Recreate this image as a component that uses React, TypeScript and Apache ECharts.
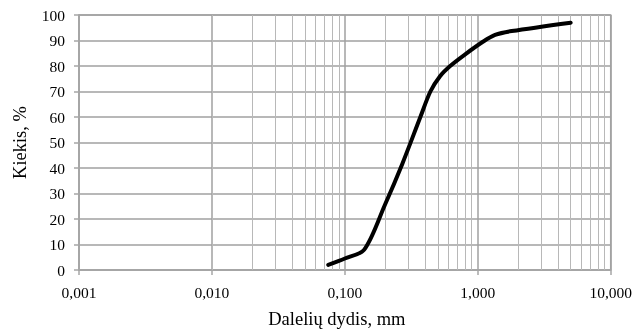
import React, { useEffect, useRef } from "react";
import * as echarts from "echarts";

const sizes = [0.075, 0.1, 0.14, 0.2, 0.27, 0.37, 0.44, 0.52, 0.62, 0.8, 1.1, 1.35, 1.8, 5.0];
const amounts = [2, 4.5, 8, 25.5, 41.5, 60, 70, 76, 80, 84.5, 89.6, 92.2, 93.7, 97];
const minorX = [
  0.002, 0.003, 0.004, 0.005, 0.006, 0.007, 0.008, 0.009,
  0.02, 0.03, 0.04, 0.05, 0.06, 0.07, 0.08, 0.09,
  0.2, 0.3, 0.4, 0.5, 0.6, 0.7, 0.8, 0.9,
  2, 3, 4, 5, 6, 7, 8, 9,
];
const xTitle = "Dalelių dydis, mm";
const yTitle = "Kiekis, %";

export default function App() {
  const ref = useRef<HTMLDivElement>(null);
  useEffect(() => {
    const chart = echarts.init(ref.current!, null, { renderer: "svg" });
    const font = "Liberation Serif";
    chart.setOption({
      animation: false,
      textStyle: { fontFamily: font },
      grid: {
        left: 79, right: 24, top: 15, bottom: 61,
        show: true, borderColor: "#a6a6a6", borderWidth: 1.5,
      },
      xAxis: {
        type: "log",
        logBase: 10,
        min: 0.001,
        max: 10,
        name: xTitle,
        nameLocation: "middle",
        nameGap: 39,
        nameTextStyle: { fontFamily: font, fontSize: 18.5, color: "#000", padding: [0, 16, 0, 0] },
        axisLine: { show: true, lineStyle: { color: "#a6a6a6", width: 1.5 } },
        axisTick: { show: true, length: 5, lineStyle: { color: "#a6a6a6", width: 1.5 } },
        axisLabel: {
          fontFamily: font, fontSize: 15.5, color: "#000", margin: 14,
          formatter: (v: number) => v.toFixed(3).replace(".", ","),
        },
        splitLine: { show: true, lineStyle: { color: "#a0a0a0", width: 1.5 } },
        minorTick: { show: false },
        minorSplitLine: { show: false },
      },
      yAxis: {
        type: "value",
        min: 0,
        max: 100,
        interval: 10,
        name: yTitle,
        nameLocation: "middle",
        nameGap: 50,
        nameTextStyle: { fontFamily: font, fontSize: 18.5, color: "#000" },
        axisLine: { show: true, lineStyle: { color: "#a6a6a6", width: 1.5 } },
        axisTick: { show: true, length: 5, lineStyle: { color: "#a6a6a6", width: 1.5 } },
        axisLabel: { fontFamily: font, fontSize: 15.5, color: "#000", margin: 14 },
        splitLine: { show: true, lineStyle: { color: "#a0a0a0", width: 1.5 } },
      },
      series: [
        {
          type: "line",
          data: [],
          silent: true,
          z: 1,
          markLine: {
            silent: true,
            animation: false,
            symbol: ["none", "none"],
            label: { show: false },
            lineStyle: { type: "solid", color: "#b8b8b8", width: 1 },
            data: minorX.map((v) => ({ xAxis: v })),
          },
        },
        {
          type: "line",
          data: sizes.map((s, i) => [s, amounts[i]]),
          smooth: 0.3,
          showSymbol: false,
          symbol: "none",
          z: 5,
          lineStyle: { color: "#000", width: 4, cap: "round", join: "round" },
        },
      ],
    });
    return () => chart.dispose();
  }, []);
  return (
    <div
      ref={ref}
      style={{ position: "fixed", left: 0, top: 0, width: 635, height: 333 }}
    />
  );
}
